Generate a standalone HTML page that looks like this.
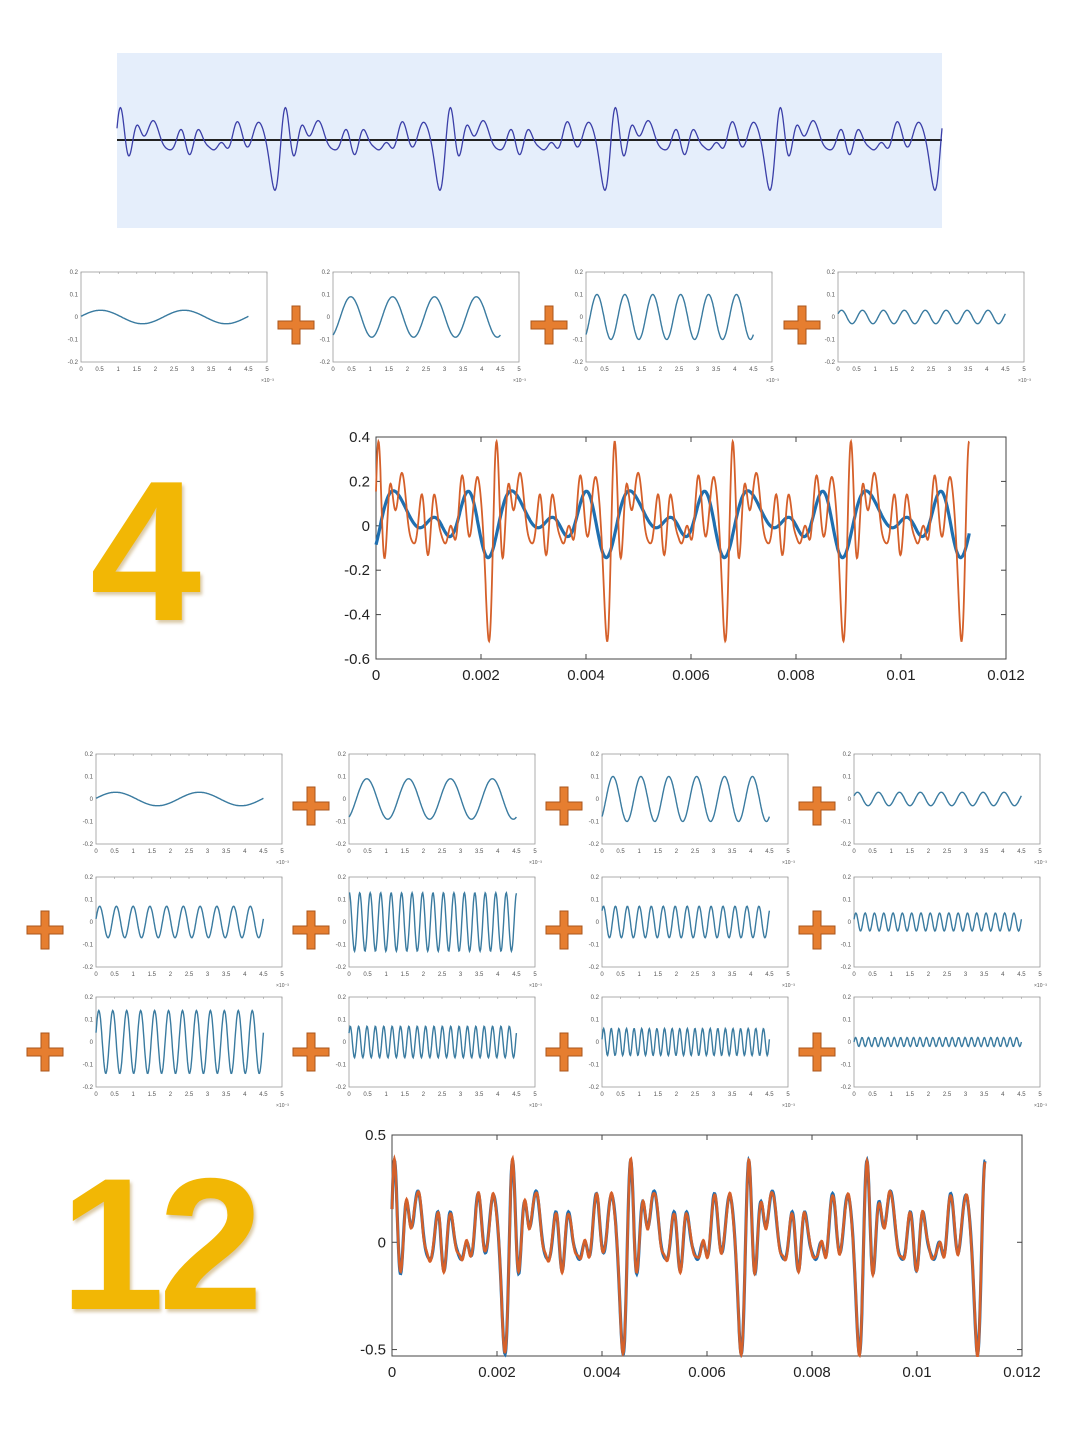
<!DOCTYPE html>
<html><head><meta charset="utf-8"><style>
html,body{margin:0;padding:0;background:#fff;}
body{width:1080px;height:1435px;position:relative;overflow:hidden;font-family:"Liberation Sans",sans-serif;}
svg{position:absolute;left:0;top:0;}
.big{position:absolute;font-family:"Liberation Sans",sans-serif;font-weight:bold;color:#f2b705;text-shadow:2px 3px 3px rgba(150,100,0,0.35);line-height:1;}
</style></head><body>
<div class="big" style="left:90px;top:452px;font-size:200px;">4</div>
<div class="big" style="left:60px;top:1150px;font-size:188px;letter-spacing:-6px;">12</div>
<svg id="s" width="1080" height="1435" xmlns="http://www.w3.org/2000/svg"></svg>
<script>
var S=document.getElementById('s'),h='';
var comps=[[1,.03,0.1],[2,.09,-1.1],[3,.1,-0.9],[4,.03,0.5],[5,.07,0.2],[8,.13,1.4],[7,.07,0.8],[9,.04,0.3],[6,.14,0.3],[10,.07,0.6],[11,.06,0.2],[13,.02,0]];
var T=0.00225;
function sig(t,n){var s=0;for(var i=0;i<n;i++){var c=comps[i];s+=c[1]*Math.sin(2*Math.PI*c[0]*t/T+c[2]);}return s;}
h+='<rect x="117" y="53" width="825" height="175" fill="#e5eefb"/>';
var d='';for(var x=117;x<=942;x+=0.5){var t=(x-117)/165*T;var v=sig(t,12);d+=(x==117?'M':'L')+x.toFixed(1)+','+(140-v*75).toFixed(1);}
h+='<line x1="117" y1="140" x2="942" y2="140" stroke="#222" stroke-width="2"/>';
h+='<path d="'+d+'" fill="none" stroke="#3b3fa8" stroke-width="1.3"/>';
function small(L,Tp,W,H,i){
 var R=L+W,B=Tp+H;h+='<rect x="'+L+'" y="'+Tp+'" width="'+W+'" height="'+H+'" fill="#fff" stroke="#999" stroke-width="0.8"/>';
 for(var k=0;k<=4;k++){var y=Tp+k*H/4;h+='<text x="'+(L-3)+'" y="'+(y+2)+'" font-size="6" fill="#555" text-anchor="end">'+['0.2','0.1','0','-0.1','-0.2'][k]+'</text>';}
 for(var k=0;k<=10;k++){var x=L+k*W/10;h+='<text x="'+x+'" y="'+(B+9)+'" font-size="6" fill="#555" text-anchor="middle">'+(k/2)+'</text><line x1="'+x+'" y1="'+Tp+'" x2="'+x+'" y2="'+(Tp+2)+'" stroke="#999" stroke-width=".6"/>';}
 h+='<text x="'+(R-6)+'" y="'+(B+20)+'" font-size="5" fill="#555">×10⁻³</text>';
 var c=comps[i],dd='';for(var k=0;k<=300;k++){var tt=k/300*4.5e-3;var v=c[1]*Math.sin(2*Math.PI*c[0]*tt/T+c[2]);var x=L+tt/5e-3*W,y=Tp+H/2-v/0.2*H/2;dd+=(k?'L':'M')+x.toFixed(1)+','+y.toFixed(1);}
 h+='<path d="'+dd+'" fill="none" stroke="#3a7ba0" stroke-width="1.4"/>';
}
function plus(cx,cy){h+='<rect x="'+(cx-18)+'" y="'+(cy-4)+'" width="36" height="8" fill="#e67e30" stroke="#a9561c" stroke-width="1"/><rect x="'+(cx-4)+'" y="'+(cy-19)+'" width="8" height="38" fill="#e67e30" stroke="#a9561c" stroke-width="1"/><rect x="'+(cx-17.5)+'" y="'+(cy-3.5)+'" width="35" height="7" fill="#e67e30"/>';}
var r1=[81,333,586,838];for(var i=0;i<4;i++)small(r1[i],272,186,90,i);
plus(296,325);plus(549,325);plus(802,325);
var cx=[96,349,602,854],ry=[754,877,997];
for(var r=0;r<3;r++)for(var c=0;c<4;c++){small(cx[c],ry[r],186,90,r*4+c);}
[800,924,1046].forEach(function(y,r){[311,564,817].forEach(function(x){plus(x,y+6);});if(r)plus(45,y+6);});
var mn=1e9,mx=-1e9;for(var k=0;k<2000;k++){var v=sig(k/2000*T,12);mn=Math.min(mn,v);mx=Math.max(mx,v);}
var sc=0.9/(mx-mn),off=0.38-mx*sc;
function big(L,Tp,R,B,ymin,ymax,yt,nApprox,ytl){
 h+='<rect x="'+L+'" y="'+Tp+'" width="'+(R-L)+'" height="'+(B-Tp)+'" fill="#fff" stroke="#444" stroke-width="1"/>';
 function Y(v){return B-(v-ymin)/(ymax-ymin)*(B-Tp);}
 yt.forEach(function(v,k){var y=Y(v);h+='<text x="'+(L-6)+'" y="'+(y+5)+'" font-size="15" fill="#222" text-anchor="end">'+ytl[k]+'</text><line x1="'+L+'" y1="'+y+'" x2="'+(L+5)+'" y2="'+y+'" stroke="#444"/><line x1="'+R+'" y1="'+y+'" x2="'+(R-5)+'" y2="'+y+'" stroke="#444"/>';});
 for(var k=0;k<=6;k++){var x=L+k*(R-L)/6;h+='<text x="'+x+'" y="'+(B+21)+'" font-size="15" fill="#222" text-anchor="middle">'+(k==0?'0':(k*0.002).toFixed(3).replace(/0+$/,''))+'</text><line x1="'+x+'" y1="'+B+'" x2="'+x+'" y2="'+(B-5)+'" stroke="#444"/><line x1="'+x+'" y1="'+Tp+'" x2="'+x+'" y2="'+(Tp+5)+'" stroke="#444"/>';}
 var a='',b='';for(var k=0;k<=1500;k++){var t=k/1500*0.0113;var x=L+t/0.012*(R-L);
  var vb=sig(t,nApprox)*sc+(nApprox==12?off:0.03);var vo=sig(t,12)*sc+off+(nApprox==12?0.01*Math.sin(t*5e4):0);
  a+=(k?'L':'M')+x.toFixed(1)+','+Y(vb).toFixed(1);b+=(k?'L':'M')+x.toFixed(1)+','+Y(vo).toFixed(1);}
 h+='<path d="'+a+'" fill="none" stroke="#1f6fb0" stroke-width="3.2"/>';
 h+='<path d="'+b+'" fill="none" stroke="#d5602a" stroke-width="'+(nApprox==12?2.6:1.8)+'"/>';
}
big(376,437,1006,659,-0.6,0.4,[0.4,0.2,0,-0.2,-0.4,-0.6],4,['0.4','0.2','0','-0.2','-0.4','-0.6']);
big(392,1135,1022,1356,-0.53,0.5,[0.5,0,-0.5],12,['0.5','0','-0.5']);
S.innerHTML=h;
</script>
</body></html>
